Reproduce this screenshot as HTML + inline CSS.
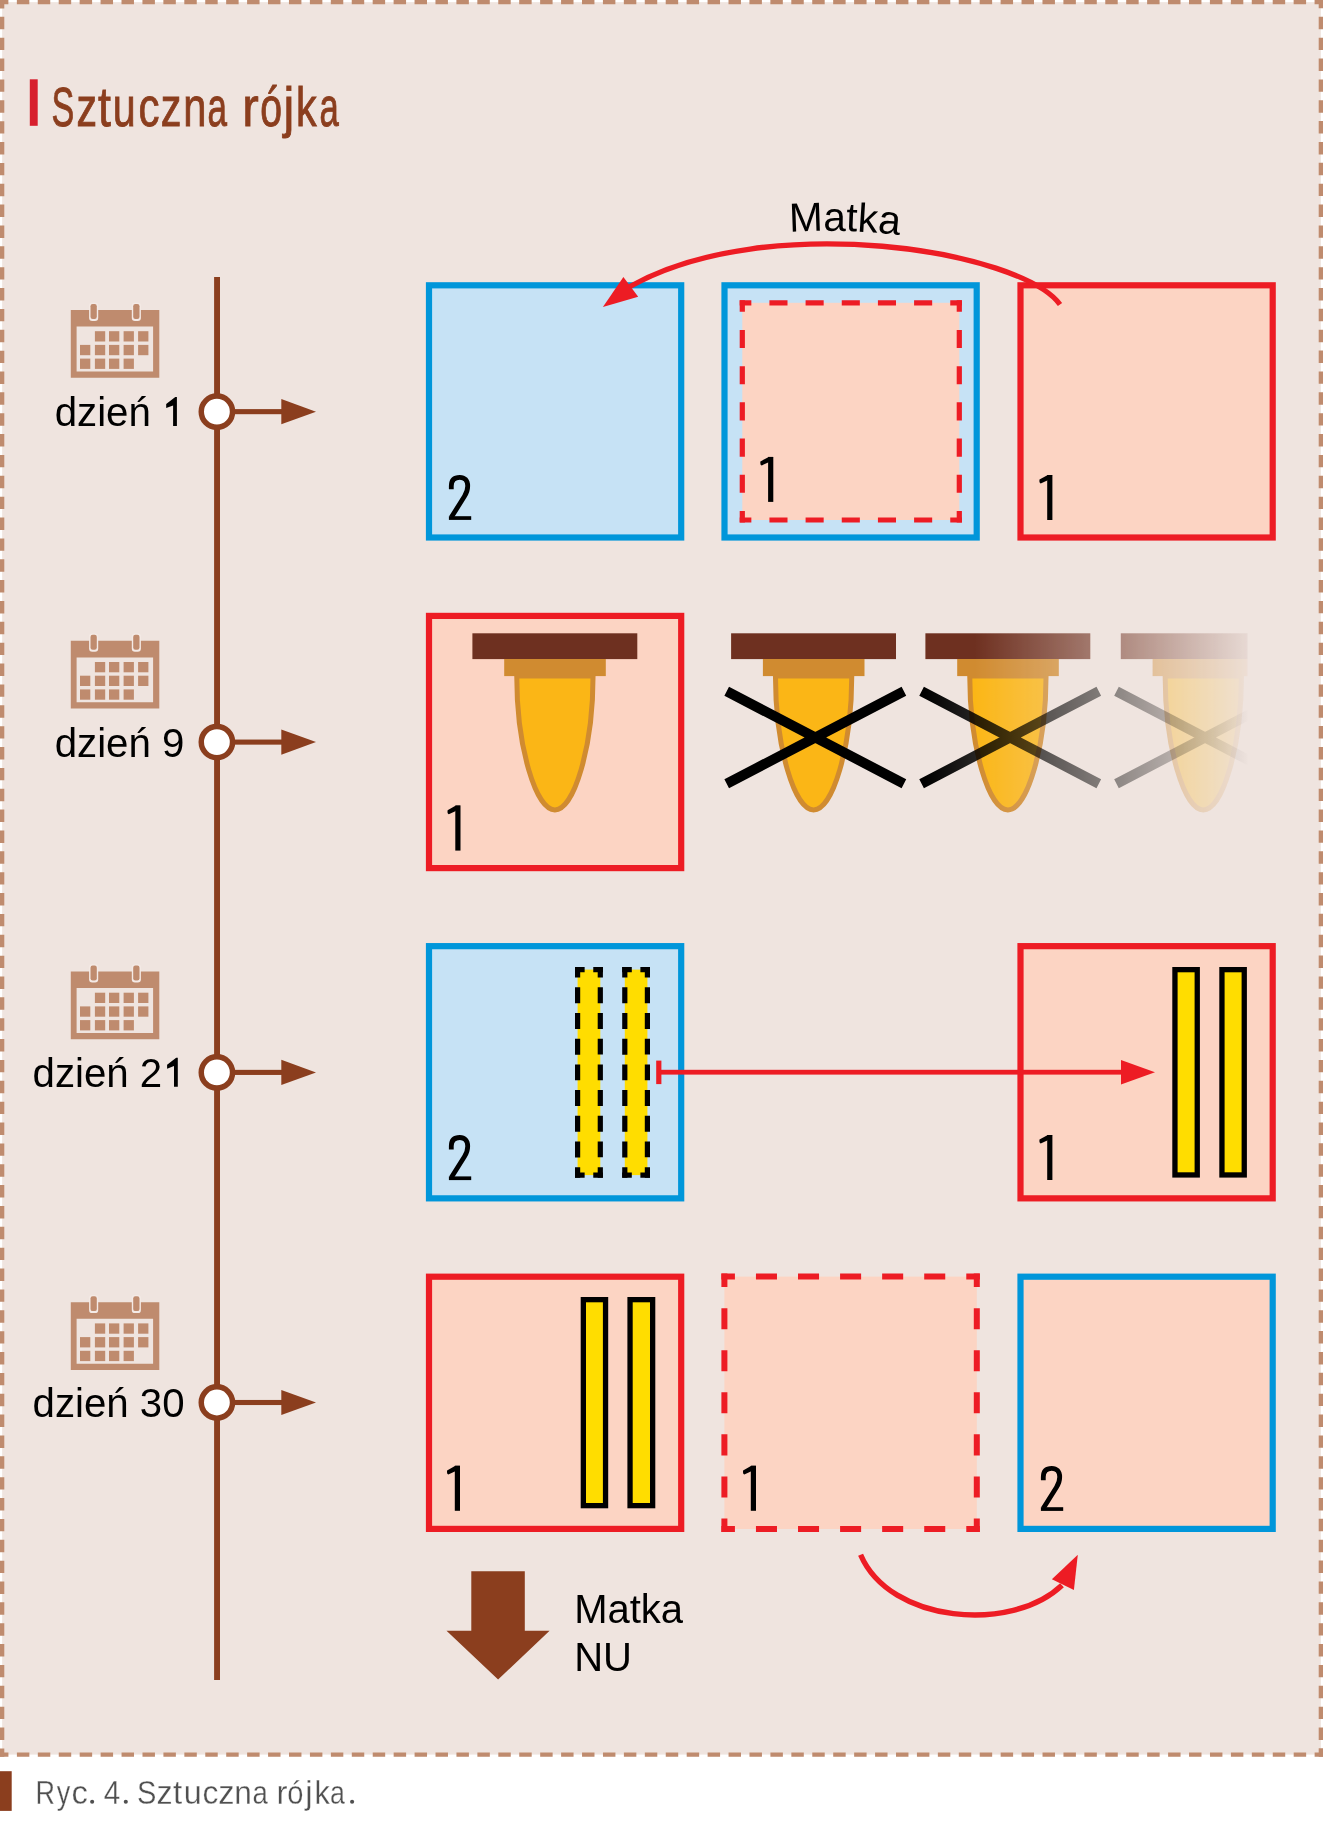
<!DOCTYPE html>
<html><head><meta charset="utf-8"><title>Sztuczna rójka</title>
<style>
html,body{margin:0;padding:0;background:#fff;}
body{width:1323px;height:1834px;position:relative;overflow:hidden;font-family:"Liberation Sans",sans-serif;}
svg{position:absolute;left:0;top:0;display:block;will-change:transform;font-family:"Liberation Sans",sans-serif;}
</style></head><body>
<svg width="1323" height="1834" viewBox="0 0 1323 1834">
<rect x="0" y="0" width="1323" height="1834" fill="#fff"/>
<rect x="2.15" y="2.15" width="1318.70" height="1752.45" fill="#efe4df"/>
<path d="M0.00 2.15L1323.00 2.15" stroke="#bf8b6e" stroke-width="4.3" stroke-dasharray="12.454 8.477" stroke-dashoffset="4.077" fill="none"/>
<path d="M1320.85 0.00L1320.85 1756.75" stroke="#bf8b6e" stroke-width="4.3" stroke-dasharray="12.413 8.449" stroke-dashoffset="4.057" fill="none"/>
<path d="M1323.00 1754.60L0.00 1754.60" stroke="#bf8b6e" stroke-width="4.3" stroke-dasharray="12.454 8.477" stroke-dashoffset="4.077" fill="none"/>
<path d="M2.15 1756.75L2.15 0.00" stroke="#bf8b6e" stroke-width="4.3" stroke-dasharray="12.413 8.449" stroke-dashoffset="4.057" fill="none"/>
<rect x="29.8" y="79.3" width="7.9" height="46.5" fill="#d71f2d"/>
<text transform="translate(51.55,125.5) scale(0.6168,1)" font-size="55.2" fill="#8b3e1e" stroke="#8b3e1e" stroke-width="0.8" vector-effect="non-scaling-stroke">S</text>
<text transform="translate(76.54,125.5) scale(0.7429,1)" font-size="55.2" fill="#8b3e1e" stroke="#8b3e1e" stroke-width="0.8" vector-effect="non-scaling-stroke">z</text>
<text transform="translate(97.89,125.5) scale(0.8442,1)" font-size="55.2" fill="#8b3e1e" stroke="#8b3e1e" stroke-width="0.8" vector-effect="non-scaling-stroke">t</text>
<text transform="translate(112.72,125.5) scale(0.7463,1)" font-size="55.2" fill="#8b3e1e" stroke="#8b3e1e" stroke-width="0.8" vector-effect="non-scaling-stroke">u</text>
<text transform="translate(138.42,125.5) scale(0.7605,1)" font-size="55.2" fill="#8b3e1e" stroke="#8b3e1e" stroke-width="0.8" vector-effect="non-scaling-stroke">c</text>
<text transform="translate(160.73,125.5) scale(0.7473,1)" font-size="55.2" fill="#8b3e1e" stroke="#8b3e1e" stroke-width="0.8" vector-effect="non-scaling-stroke">z</text>
<text transform="translate(183.13,125.5) scale(0.7548,1)" font-size="55.2" fill="#8b3e1e" stroke="#8b3e1e" stroke-width="0.8" vector-effect="non-scaling-stroke">n</text>
<text transform="translate(207.51,125.5) scale(0.6348,1)" font-size="55.2" fill="#8b3e1e" stroke="#8b3e1e" stroke-width="0.8" vector-effect="non-scaling-stroke">a</text>
<text transform="translate(242.31,125.5) scale(0.8986,1)" font-size="55.2" fill="#8b3e1e" stroke="#8b3e1e" stroke-width="0.8" vector-effect="non-scaling-stroke">r</text>
<text transform="translate(260.35,125.5) scale(0.7098,1)" font-size="55.2" fill="#8b3e1e" stroke="#8b3e1e" stroke-width="0.8" vector-effect="non-scaling-stroke">ó</text>
<text transform="translate(283.58,125.5) scale(0.88,1)" font-size="55.2" fill="#8b3e1e" stroke="#8b3e1e" stroke-width="0.8" vector-effect="non-scaling-stroke">j</text>
<text transform="translate(295.92,125.5) scale(0.747,1)" font-size="55.2" fill="#8b3e1e" stroke="#8b3e1e" stroke-width="0.8" vector-effect="non-scaling-stroke">k</text>
<text transform="translate(319.53,125.5) scale(0.6278,1)" font-size="55.2" fill="#8b3e1e" stroke="#8b3e1e" stroke-width="0.8" vector-effect="non-scaling-stroke">a</text>
<rect x="214.1" y="277" width="5.9" height="1403" fill="#8b3e1e"/>
<g transform="translate(70.80,310.00)">
<path fill-rule="evenodd" fill="#bf8b6e" d="M0 0H88.5V67.7H0Z M5.8 16.6V61.5H82.3V16.6Z"/>
<rect x="24.1" y="21.2" width="10.3" height="10.3" fill="#bf8b6e"/>
<rect x="38.2" y="21.2" width="10.3" height="10.3" fill="#bf8b6e"/>
<rect x="52.8" y="21.2" width="10.3" height="10.3" fill="#bf8b6e"/>
<rect x="67.3" y="21.2" width="10.3" height="10.3" fill="#bf8b6e"/>
<rect x="9.2" y="34.9" width="10.3" height="10.3" fill="#bf8b6e"/>
<rect x="24.1" y="34.9" width="10.3" height="10.3" fill="#bf8b6e"/>
<rect x="38.2" y="34.9" width="10.3" height="10.3" fill="#bf8b6e"/>
<rect x="52.8" y="34.9" width="10.3" height="10.3" fill="#bf8b6e"/>
<rect x="67.3" y="34.9" width="10.3" height="10.3" fill="#bf8b6e"/>
<rect x="9.2" y="48.6" width="10.3" height="10.3" fill="#bf8b6e"/>
<rect x="24.1" y="48.6" width="10.3" height="10.3" fill="#bf8b6e"/>
<rect x="38.2" y="48.6" width="10.3" height="10.3" fill="#bf8b6e"/>
<rect x="52.8" y="48.6" width="10.3" height="10.3" fill="#bf8b6e"/>
<rect x="18.30" y="-7.2" width="9.1" height="18.1" rx="3.2" fill="#f4eae6"/>
<rect x="19.70" y="-6.0" width="6.3" height="14.9" rx="2.2" fill="#bf8b6e"/>
<rect x="61.00" y="-7.2" width="9.1" height="18.1" rx="3.2" fill="#f4eae6"/>
<rect x="62.40" y="-6.0" width="6.3" height="14.9" rx="2.2" fill="#bf8b6e"/>
</g>
<text x="54.7" y="426.00" font-size="40.2" fill="#000">dzień</text>
<path d="M173.10 426.00V405.40L166.20 408.00V404.10L175.30 397.00H176.90V426.00Z" fill="#000"/>
<rect x="217" y="409.10" width="66" height="5.1" fill="#8b3e1e"/>
<path d="M281.3 399.05L316.0 411.65L281.3 424.25Z" fill="#8b3e1e"/>
<circle cx="216.9" cy="411.65" r="15.65" fill="#fff" stroke="#8b3e1e" stroke-width="5.5"/>
<g transform="translate(70.80,640.80)">
<path fill-rule="evenodd" fill="#bf8b6e" d="M0 0H88.5V67.7H0Z M5.8 16.6V61.5H82.3V16.6Z"/>
<rect x="24.1" y="21.2" width="10.3" height="10.3" fill="#bf8b6e"/>
<rect x="38.2" y="21.2" width="10.3" height="10.3" fill="#bf8b6e"/>
<rect x="52.8" y="21.2" width="10.3" height="10.3" fill="#bf8b6e"/>
<rect x="67.3" y="21.2" width="10.3" height="10.3" fill="#bf8b6e"/>
<rect x="9.2" y="34.9" width="10.3" height="10.3" fill="#bf8b6e"/>
<rect x="24.1" y="34.9" width="10.3" height="10.3" fill="#bf8b6e"/>
<rect x="38.2" y="34.9" width="10.3" height="10.3" fill="#bf8b6e"/>
<rect x="52.8" y="34.9" width="10.3" height="10.3" fill="#bf8b6e"/>
<rect x="67.3" y="34.9" width="10.3" height="10.3" fill="#bf8b6e"/>
<rect x="9.2" y="48.6" width="10.3" height="10.3" fill="#bf8b6e"/>
<rect x="24.1" y="48.6" width="10.3" height="10.3" fill="#bf8b6e"/>
<rect x="38.2" y="48.6" width="10.3" height="10.3" fill="#bf8b6e"/>
<rect x="52.8" y="48.6" width="10.3" height="10.3" fill="#bf8b6e"/>
<rect x="18.30" y="-7.2" width="9.1" height="18.1" rx="3.2" fill="#f4eae6"/>
<rect x="19.70" y="-6.0" width="6.3" height="14.9" rx="2.2" fill="#bf8b6e"/>
<rect x="61.00" y="-7.2" width="9.1" height="18.1" rx="3.2" fill="#f4eae6"/>
<rect x="62.40" y="-6.0" width="6.3" height="14.9" rx="2.2" fill="#bf8b6e"/>
</g>
<text x="54.7" y="756.60" font-size="40.2" fill="#000">dzień 9</text>
<rect x="217" y="739.55" width="66" height="5.1" fill="#8b3e1e"/>
<path d="M281.3 729.50L316.0 742.10L281.3 754.70Z" fill="#8b3e1e"/>
<circle cx="216.9" cy="742.10" r="15.65" fill="#fff" stroke="#8b3e1e" stroke-width="5.5"/>
<g transform="translate(70.80,971.50)">
<path fill-rule="evenodd" fill="#bf8b6e" d="M0 0H88.5V67.7H0Z M5.8 16.6V61.5H82.3V16.6Z"/>
<rect x="24.1" y="21.2" width="10.3" height="10.3" fill="#bf8b6e"/>
<rect x="38.2" y="21.2" width="10.3" height="10.3" fill="#bf8b6e"/>
<rect x="52.8" y="21.2" width="10.3" height="10.3" fill="#bf8b6e"/>
<rect x="67.3" y="21.2" width="10.3" height="10.3" fill="#bf8b6e"/>
<rect x="9.2" y="34.9" width="10.3" height="10.3" fill="#bf8b6e"/>
<rect x="24.1" y="34.9" width="10.3" height="10.3" fill="#bf8b6e"/>
<rect x="38.2" y="34.9" width="10.3" height="10.3" fill="#bf8b6e"/>
<rect x="52.8" y="34.9" width="10.3" height="10.3" fill="#bf8b6e"/>
<rect x="67.3" y="34.9" width="10.3" height="10.3" fill="#bf8b6e"/>
<rect x="9.2" y="48.6" width="10.3" height="10.3" fill="#bf8b6e"/>
<rect x="24.1" y="48.6" width="10.3" height="10.3" fill="#bf8b6e"/>
<rect x="38.2" y="48.6" width="10.3" height="10.3" fill="#bf8b6e"/>
<rect x="52.8" y="48.6" width="10.3" height="10.3" fill="#bf8b6e"/>
<rect x="18.30" y="-7.2" width="9.1" height="18.1" rx="3.2" fill="#f4eae6"/>
<rect x="19.70" y="-6.0" width="6.3" height="14.9" rx="2.2" fill="#bf8b6e"/>
<rect x="61.00" y="-7.2" width="9.1" height="18.1" rx="3.2" fill="#f4eae6"/>
<rect x="62.40" y="-6.0" width="6.3" height="14.9" rx="2.2" fill="#bf8b6e"/>
</g>
<text x="32.6" y="1086.70" font-size="40.2" fill="#000">dzień 2</text>
<path d="M174.00 1086.70V1066.10L167.10 1068.70V1064.80L176.20 1057.70H177.80V1086.70Z" fill="#000"/>
<rect x="217" y="1069.85" width="66" height="5.1" fill="#8b3e1e"/>
<path d="M281.3 1059.80L316.0 1072.40L281.3 1085.00Z" fill="#8b3e1e"/>
<circle cx="216.9" cy="1072.40" r="15.65" fill="#fff" stroke="#8b3e1e" stroke-width="5.5"/>
<g transform="translate(70.80,1302.20)">
<path fill-rule="evenodd" fill="#bf8b6e" d="M0 0H88.5V67.7H0Z M5.8 16.6V61.5H82.3V16.6Z"/>
<rect x="24.1" y="21.2" width="10.3" height="10.3" fill="#bf8b6e"/>
<rect x="38.2" y="21.2" width="10.3" height="10.3" fill="#bf8b6e"/>
<rect x="52.8" y="21.2" width="10.3" height="10.3" fill="#bf8b6e"/>
<rect x="67.3" y="21.2" width="10.3" height="10.3" fill="#bf8b6e"/>
<rect x="9.2" y="34.9" width="10.3" height="10.3" fill="#bf8b6e"/>
<rect x="24.1" y="34.9" width="10.3" height="10.3" fill="#bf8b6e"/>
<rect x="38.2" y="34.9" width="10.3" height="10.3" fill="#bf8b6e"/>
<rect x="52.8" y="34.9" width="10.3" height="10.3" fill="#bf8b6e"/>
<rect x="67.3" y="34.9" width="10.3" height="10.3" fill="#bf8b6e"/>
<rect x="9.2" y="48.6" width="10.3" height="10.3" fill="#bf8b6e"/>
<rect x="24.1" y="48.6" width="10.3" height="10.3" fill="#bf8b6e"/>
<rect x="38.2" y="48.6" width="10.3" height="10.3" fill="#bf8b6e"/>
<rect x="52.8" y="48.6" width="10.3" height="10.3" fill="#bf8b6e"/>
<rect x="18.30" y="-7.2" width="9.1" height="18.1" rx="3.2" fill="#f4eae6"/>
<rect x="19.70" y="-6.0" width="6.3" height="14.9" rx="2.2" fill="#bf8b6e"/>
<rect x="61.00" y="-7.2" width="9.1" height="18.1" rx="3.2" fill="#f4eae6"/>
<rect x="62.40" y="-6.0" width="6.3" height="14.9" rx="2.2" fill="#bf8b6e"/>
</g>
<text x="32.6" y="1416.70" font-size="40.2" fill="#000">dzień 30</text>
<rect x="217" y="1399.95" width="66" height="5.1" fill="#8b3e1e"/>
<path d="M281.3 1389.90L316.0 1402.50L281.3 1415.10Z" fill="#8b3e1e"/>
<circle cx="216.9" cy="1402.50" r="15.65" fill="#fff" stroke="#8b3e1e" stroke-width="5.5"/>
<rect x="429.00" y="285.30" width="252.20" height="252.20" fill="#c6e2f5" stroke="#0096da" stroke-width="6.2"/>
<rect x="724.50" y="285.30" width="252.20" height="252.20" fill="#c6e2f5" stroke="#0096da" stroke-width="6.2"/>
<rect x="1020.50" y="285.30" width="252.20" height="252.20" fill="#fcd4c3" stroke="#ed1c24" stroke-width="6.2"/>
<rect x="742.3" y="302.8" width="217.00" height="217.20" fill="#fcd4c3"/>
<path d="M739.70 302.80L961.90 302.80" stroke="#ed1c24" stroke-width="5.2" stroke-dasharray="18.083 18.083" stroke-dashoffset="6.442" fill="none"/>
<path d="M959.30 300.20L959.30 522.60" stroke="#ed1c24" stroke-width="5.2" stroke-dasharray="18.100 18.100" stroke-dashoffset="6.450" fill="none"/>
<path d="M961.90 520.00L739.70 520.00" stroke="#ed1c24" stroke-width="5.2" stroke-dasharray="18.083 18.083" stroke-dashoffset="6.442" fill="none"/>
<path d="M742.30 522.60L742.30 300.20" stroke="#ed1c24" stroke-width="5.2" stroke-dasharray="18.100 18.100" stroke-dashoffset="6.450" fill="none"/>
<path d="M451.30 489.30V485.90C451.30 479.70 454.90 477.30 459.80 477.30C464.50 477.30 467.70 480.10 467.70 486.10C467.70 490.50 466.30 493.50 464.50 496.30L451.30 517.30" stroke="#000" stroke-width="4.8" fill="none" stroke-linejoin="miter"/>
<rect x="448.90" y="516.20" width="22.30" height="3.7" fill="#000"/>
<path d="M768.10 456.90h5.20v45.00h-5.20z" fill="#000"/>
<path d="M760.40 461.50L768.70 456.90L773.30 456.90L768.10 462.50L761.60 465.50Q759.90 465.10 760.40 461.50z" fill="#000"/>
<path d="M1047.20 475.00h5.20v45.00h-5.20z" fill="#000"/>
<path d="M1039.50 479.60L1047.80 475.00L1052.40 475.00L1047.20 480.60L1040.70 483.60Q1039.00 483.20 1039.50 479.60z" fill="#000"/>
<path d="M1060 304.5C1020.7 250.8 768.8 208.9 630 286.5" stroke="#ed1c24" stroke-width="5.3" fill="none"/>
<path d="M602.9 306.9L623.4 276.9L638.2 296.8Z" fill="#ed1c24"/>
<path id="mtp" d="M630 273.5C768.8 195.9 1020.7 237.8 1060 291.5" fill="none"/>
<rect x="429.00" y="615.90" width="252.20" height="252.20" fill="#fcd4c3" stroke="#ed1c24" stroke-width="6.2"/>
<path d="M455.30 805.60h5.20v45.00h-5.20z" fill="#000"/>
<path d="M447.60 810.20L455.90 805.60L460.50 805.60L455.30 811.20L448.80 814.20Q447.10 813.80 447.60 810.20z" fill="#000"/>
<rect x="472.40" y="633.30" width="164.9" height="25.8" fill="#6e3020"/>
<rect x="504.20" y="659.00" width="101.6" height="17.1" fill="#d08b30"/>
<path d="M516.75 676.00C516.75 747.80 536.00 809.90 554.90 809.90C573.80 809.90 593.05 747.80 593.05 676.00Z" fill="#fbb616" stroke="#d08b30" stroke-width="5"/>
<rect x="731.10" y="633.30" width="164.9" height="25.8" fill="#6e3020"/>
<rect x="762.90" y="659.00" width="101.6" height="17.1" fill="#d08b30"/>
<path d="M775.45 676.00C775.45 747.80 794.70 809.90 813.60 809.90C832.50 809.90 851.75 747.80 851.75 676.00Z" fill="#fbb616" stroke="#d08b30" stroke-width="5"/>
<path d="M726.70 691.30L903.90 783.70M726.70 783.70L903.90 691.30" stroke="#000" stroke-width="10" fill="none"/>
<defs><linearGradient id="fg" gradientUnits="userSpaceOnUse" x1="975" y1="0" x2="1265" y2="0"><stop offset="0" stop-color="#fff"/><stop offset="1" stop-color="#000"/></linearGradient><linearGradient id="fg2" gradientUnits="userSpaceOnUse" x1="925" y1="0" x2="1250" y2="0"><stop offset="0" stop-color="#fff"/><stop offset="1" stop-color="#000"/></linearGradient><mask id="fm" maskUnits="userSpaceOnUse" x="900" y="600" width="400" height="250"><rect x="900" y="600" width="347.5" height="250" fill="url(#fg)"/></mask><mask id="fm2" maskUnits="userSpaceOnUse" x="900" y="600" width="400" height="250"><rect x="900" y="600" width="347.5" height="250" fill="url(#fg2)"/></mask></defs>
<g mask="url(#fm)">
<rect x="925.40" y="633.30" width="164.9" height="25.8" fill="#6e3020"/>
<rect x="957.20" y="659.00" width="101.6" height="17.1" fill="#d08b30"/>
<path d="M969.75 676.00C969.75 747.80 989.00 809.90 1007.90 809.90C1026.80 809.90 1046.05 747.80 1046.05 676.00Z" fill="#fbb616" stroke="#d08b30" stroke-width="5"/>
<rect x="1120.80" y="633.30" width="164.9" height="25.8" fill="#6e3020"/>
<rect x="1152.60" y="659.00" width="101.6" height="17.1" fill="#d08b30"/>
<path d="M1165.15 676.00C1165.15 747.80 1184.40 809.90 1203.30 809.90C1222.20 809.90 1241.45 747.80 1241.45 676.00Z" fill="#fbb616" stroke="#d08b30" stroke-width="5"/>
</g>
<g mask="url(#fm2)">
<path d="M921.60 691.30L1098.80 783.70M921.60 783.70L1098.80 691.30" stroke="#000" stroke-width="10" fill="none"/>
<path d="M1116.50 691.30L1293.70 783.70M1116.50 783.70L1293.70 691.30" stroke="#000" stroke-width="10" fill="none"/>
</g>
<rect x="429.00" y="946.15" width="252.20" height="252.20" fill="#c6e2f5" stroke="#0096da" stroke-width="6.2"/>
<rect x="1020.50" y="946.15" width="252.20" height="252.20" fill="#fcd4c3" stroke="#ed1c24" stroke-width="6.2"/>
<path d="M451.30 1149.50V1146.10C451.30 1139.90 454.90 1137.50 459.80 1137.50C464.50 1137.50 467.70 1140.30 467.70 1146.30C467.70 1150.70 466.30 1153.70 464.50 1156.50L451.30 1177.50" stroke="#000" stroke-width="4.8" fill="none" stroke-linejoin="miter"/>
<rect x="448.90" y="1176.40" width="22.30" height="3.7" fill="#000"/>
<path d="M1047.20 1135.00h5.20v45.00h-5.20z" fill="#000"/>
<path d="M1039.50 1139.60L1047.80 1135.00L1052.40 1135.00L1047.20 1140.60L1040.70 1143.60Q1039.00 1143.20 1039.50 1139.60z" fill="#000"/>
<rect x="577.6" y="969.6" width="22.70" height="205.50" fill="#ffdd00"/>
<path d="M575.00 969.60L602.90 969.60" stroke="#000" stroke-width="5.2" stroke-dasharray="14.074 8.626" stroke-dashoffset="4.437" fill="none"/>
<path d="M600.30 967.00L600.30 1177.70" stroke="#000" stroke-width="5.2" stroke-dasharray="15.926 9.761" stroke-dashoffset="5.363" fill="none"/>
<path d="M602.90 1175.10L575.00 1175.10" stroke="#000" stroke-width="5.2" stroke-dasharray="14.074 8.626" stroke-dashoffset="4.437" fill="none"/>
<path d="M577.60 1177.70L577.60 967.00" stroke="#000" stroke-width="5.2" stroke-dasharray="15.926 9.761" stroke-dashoffset="5.363" fill="none"/>
<rect x="624.8" y="969.6" width="22.60" height="205.50" fill="#ffdd00"/>
<path d="M622.20 969.60L650.00 969.60" stroke="#000" stroke-width="5.2" stroke-dasharray="14.012 8.588" stroke-dashoffset="4.406" fill="none"/>
<path d="M647.40 967.00L647.40 1177.70" stroke="#000" stroke-width="5.2" stroke-dasharray="15.926 9.761" stroke-dashoffset="5.363" fill="none"/>
<path d="M650.00 1175.10L622.20 1175.10" stroke="#000" stroke-width="5.2" stroke-dasharray="14.012 8.588" stroke-dashoffset="4.406" fill="none"/>
<path d="M624.80 1177.70L624.80 967.00" stroke="#000" stroke-width="5.2" stroke-dasharray="15.926 9.761" stroke-dashoffset="5.363" fill="none"/>
<rect x="1174.95" y="969.65" width="22.30" height="205.30" fill="#ffdd00" stroke="#000" stroke-width="5.3"/>
<rect x="1221.95" y="969.65" width="22.30" height="205.30" fill="#ffdd00" stroke="#000" stroke-width="5.3"/>
<rect x="658" y="1069.8" width="466" height="4.8" fill="#ed1c24"/>
<rect x="656.2" y="1060.6" width="5.2" height="23.5" fill="#ed1c24"/>
<path d="M1121 1060L1155 1072.2L1121 1084.6Z" fill="#ed1c24"/>
<rect x="429.00" y="1276.70" width="252.20" height="252.20" fill="#fcd4c3" stroke="#ed1c24" stroke-width="6.2"/>
<rect x="724.4" y="1276.6" width="252.40" height="252.40" fill="#fcd4c3"/>
<path d="M721.40 1276.60L979.80 1276.60" stroke="#ed1c24" stroke-width="6.0" stroke-dasharray="21.033 21.033" stroke-dashoffset="7.517" fill="none"/>
<path d="M976.80 1273.60L976.80 1532.00" stroke="#ed1c24" stroke-width="6.0" stroke-dasharray="21.033 21.033" stroke-dashoffset="7.517" fill="none"/>
<path d="M979.80 1529.00L721.40 1529.00" stroke="#ed1c24" stroke-width="6.0" stroke-dasharray="21.033 21.033" stroke-dashoffset="7.517" fill="none"/>
<path d="M724.40 1532.00L724.40 1273.60" stroke="#ed1c24" stroke-width="6.0" stroke-dasharray="21.033 21.033" stroke-dashoffset="7.517" fill="none"/>
<rect x="1020.50" y="1276.70" width="252.20" height="252.20" fill="#fcd4c3" stroke="#0096da" stroke-width="6.2"/>
<rect x="583.35" y="1299.65" width="22.20" height="206.00" fill="#ffdd00" stroke="#000" stroke-width="5.3"/>
<rect x="630.05" y="1299.65" width="22.60" height="206.00" fill="#ffdd00" stroke="#000" stroke-width="5.3"/>
<path d="M454.80 1465.80h5.20v45.00h-5.20z" fill="#000"/>
<path d="M447.10 1470.40L455.40 1465.80L460.00 1465.80L454.80 1471.40L448.30 1474.40Q446.60 1474.00 447.10 1470.40z" fill="#000"/>
<path d="M750.80 1465.80h5.20v45.00h-5.20z" fill="#000"/>
<path d="M743.10 1470.40L751.40 1465.80L756.00 1465.80L750.80 1471.40L744.30 1474.40Q742.60 1474.00 743.10 1470.40z" fill="#000"/>
<path d="M1043.30 1480.30V1476.90C1043.30 1470.70 1046.90 1468.30 1051.80 1468.30C1056.50 1468.30 1059.70 1471.10 1059.70 1477.10C1059.70 1481.50 1058.30 1484.50 1056.50 1487.30L1043.30 1508.30" stroke="#000" stroke-width="4.8" fill="none" stroke-linejoin="miter"/>
<rect x="1040.90" y="1507.20" width="22.30" height="3.7" fill="#000"/>
<path d="M860.6 1554.7C889.9 1623.2 1011.5 1633.3 1062 1585.2" stroke="#ed1c24" stroke-width="5.4" fill="none"/>
<path d="M1077.8 1554.7L1051.9 1579.3L1073.9 1590.1Z" fill="#ed1c24"/>
<path d="M471.3 1571.2H524.8V1630.8H549.6L498.1 1679.5L446.5 1630.8H471.3Z" fill="#8b3e1e"/>
<text x="574.2" y="1623" font-size="40" fill="#000">Matka</text>
<text x="574.2" y="1670.6" font-size="40" fill="#000">NU</text>
<text font-size="40.5" fill="#000"><textPath href="#mtp" startOffset="221.2" text-anchor="middle">Matka</textPath></text>
<rect x="0" y="1771.2" width="11.7" height="39.7" fill="#8b3e1e"/>
<text transform="translate(35.41,1803.8) scale(0.8338,1)" font-size="32.4" fill="#505050" stroke="#fff" stroke-width="0.3" vector-effect="non-scaling-stroke">R</text>
<text transform="translate(56.86,1803.8) scale(0.8370,1)" font-size="32.4" fill="#505050" stroke="#fff" stroke-width="0.3" vector-effect="non-scaling-stroke">y</text>
<text transform="translate(71.44,1803.8) scale(1.0122,1)" font-size="32.4" fill="#505050" stroke="#fff" stroke-width="0.3" vector-effect="non-scaling-stroke">c</text>
<circle cx="92.15" cy="1801.70" r="2.05" fill="#505050"/>
<text transform="translate(103.85,1803.8) scale(0.9151,1)" font-size="32.4" fill="#505050" stroke="#fff" stroke-width="0.3" vector-effect="non-scaling-stroke">4</text>
<circle cx="125.80" cy="1801.70" r="2.05" fill="#505050"/>
<text transform="translate(137.11,1803.8) scale(0.8975,1)" font-size="32.4" fill="#505050" stroke="#fff" stroke-width="0.3" vector-effect="non-scaling-stroke">S</text>
<text transform="translate(156.42,1803.8) scale(0.9975,1)" font-size="32.4" fill="#505050" stroke="#fff" stroke-width="0.3" vector-effect="non-scaling-stroke">z</text>
<text transform="translate(172.88,1803.8) scale(1.0200,1)" font-size="32.4" fill="#505050" stroke="#fff" stroke-width="0.3" vector-effect="non-scaling-stroke">t</text>
<text transform="translate(183.73,1803.8) scale(0.9983,1)" font-size="32.4" fill="#505050" stroke="#fff" stroke-width="0.3" vector-effect="non-scaling-stroke">u</text>
<text transform="translate(202.38,1803.8) scale(0.9836,1)" font-size="32.4" fill="#505050" stroke="#fff" stroke-width="0.3" vector-effect="non-scaling-stroke">c</text>
<text transform="translate(218.31,1803.8) scale(1.0050,1)" font-size="32.4" fill="#505050" stroke="#fff" stroke-width="0.3" vector-effect="non-scaling-stroke">z</text>
<text transform="translate(234.13,1803.8) scale(0.9765,1)" font-size="32.4" fill="#505050" stroke="#fff" stroke-width="0.3" vector-effect="non-scaling-stroke">n</text>
<text transform="translate(252.46,1803.8) scale(0.8496,1)" font-size="32.4" fill="#505050" stroke="#fff" stroke-width="0.3" vector-effect="non-scaling-stroke">a</text>
<text transform="translate(276.62,1803.8) scale(1.0200,1)" font-size="32.4" fill="#505050" stroke="#fff" stroke-width="0.3" vector-effect="non-scaling-stroke">r</text>
<text transform="translate(287.31,1803.8) scale(0.8981,1)" font-size="32.4" fill="#505050" stroke="#fff" stroke-width="0.3" vector-effect="non-scaling-stroke">ó</text>
<text transform="translate(305.35,1803.8) scale(1.0200,1)" font-size="32.4" fill="#505050" stroke="#fff" stroke-width="0.3" vector-effect="non-scaling-stroke">j</text>
<text transform="translate(314.46,1803.8) scale(0.9485,1)" font-size="32.4" fill="#505050" stroke="#fff" stroke-width="0.3" vector-effect="non-scaling-stroke">k</text>
<text transform="translate(330.09,1803.8) scale(0.8256,1)" font-size="32.4" fill="#505050" stroke="#fff" stroke-width="0.3" vector-effect="non-scaling-stroke">a</text>
<circle cx="352.10" cy="1801.70" r="2.05" fill="#505050"/>
</svg>
</body></html>
